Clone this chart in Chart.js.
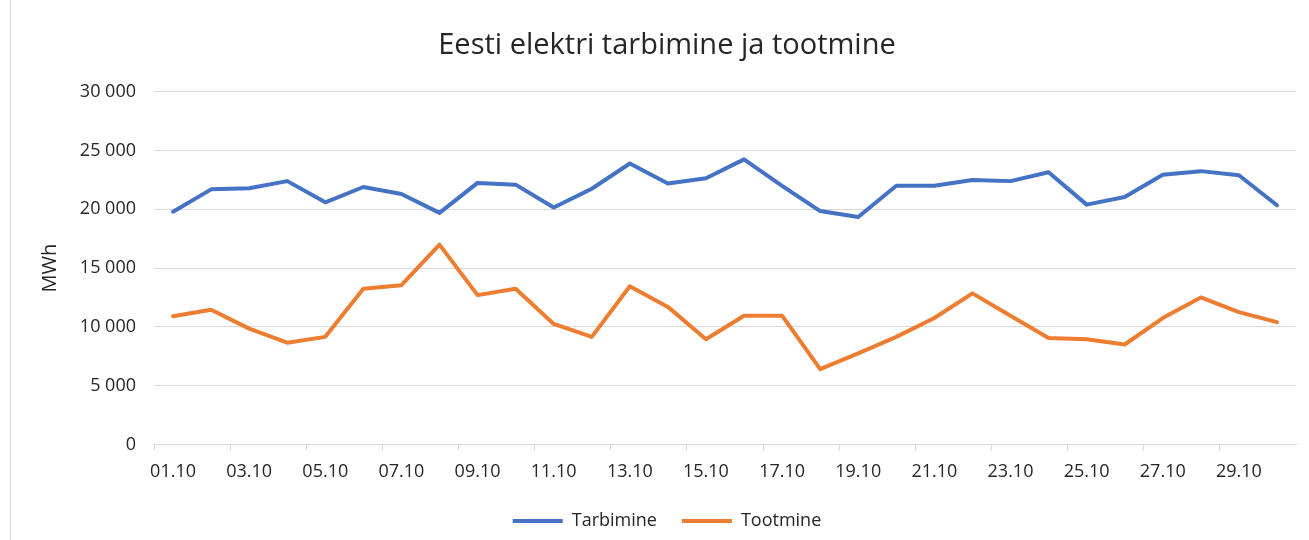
<!DOCTYPE html>
<html>
<head>
<meta charset="utf-8">
<script src="https://cdn.jsdelivr.net/npm/chart.js@4/dist/chart.umd.min.js"></script>
<style>
  body { margin: 0; background: #fff; }
  .raam { position: absolute; left: 10px; top: 0; width: 1299px; height: 540px; border-left: 1px solid #d9d9d9; }
  .kast { position: absolute; left: 0; top: 0; width: 1309px; height: 540px; }
</style>
</head>
<body>
<div class="raam"></div>
<div class="kast"><canvas id="chart" width="1309" height="540"></canvas></div>
<script>
// Kuupäevad (oktoober)
const paevad = ['01.10', '02.10', '03.10', '04.10', '05.10', '06.10', '07.10', '08.10', '09.10', '10.10',
    '11.10', '12.10', '13.10', '14.10', '15.10', '16.10', '17.10', '18.10', '19.10', '20.10',
    '21.10', '22.10', '23.10', '24.10', '25.10', '26.10', '27.10', '28.10', '29.10', '30.10'];

// Tarbimine, MWh
const tarbimine = [19800, 21700, 21800, 22400, 20600, 21900, 21300, 19700, 22250, 22100,
    20150, 21750, 23900, 22200, 22650, 24250, 22000, 19850, 19350, 22000,
    22000, 22500, 22400, 23150, 20400, 21050, 22950, 23250, 22900, 20350];

// Tootmine, MWh
const tootmine = [10900, 11450, 9850, 8650, 9150, 13250, 13550, 17000, 12700, 13250,
    10250, 9150, 13450, 11700, 8950, 10950, 10950, 6400, 7750, 9150,
    10750, 12850, 10950, 9050, 8950, 8500, 10750, 12500, 11250, 10400];

// Y-telje jaotised
const yMin = 0;
const yMax = 30000;
const ySamm = 5000;

const tekstiVarv = '#262626';
const joonteVarv = '#d9d9d9';
const font = '"Open Sans", sans-serif';

// Tuhandete eraldaja tühikuga
function vorminda(v) {
    return String(v).replace(/\B(?=(\d{3})+(?!\d))/g, ' ');
}

const ctx = document.getElementById('chart').getContext('2d');
const myChart = new Chart(ctx, {
    type: 'line',
    data: {
        labels: paevad,
        datasets: [
            {
                label: 'Tarbimine',
                data: tarbimine,
                borderColor: '#4472C4',
                backgroundColor: '#4472C4',
                borderWidth: 4,
                pointRadius: 0,
                tension: 0,
                borderJoinStyle: 'round',
                borderCapStyle: 'round'
            },
            {
                label: 'Tootmine',
                data: tootmine,
                borderColor: '#ED7D31',
                backgroundColor: '#ED7D31',
                borderWidth: 4,
                pointRadius: 0,
                tension: 0,
                borderJoinStyle: 'round',
                borderCapStyle: 'round'
            }
        ]
    },
    options: {
        responsive: false,
        animation: false,
        layout: {
            padding: { left: 38, right: 13, top: 0, bottom: 0 }
        },
        plugins: {
            title: {
                display: true,
                text: 'Eesti elektri tarbimine ja tootmine',
                color: tekstiVarv,
                font: { family: font, size: 29, weight: 'normal', lineHeight: 1.2 },
                padding: { top: 28, bottom: 29 }
            },
            legend: {
                position: 'bottom',
                labels: {
                    color: tekstiVarv,
                    font: { family: font, size: 18 },
                    usePointStyle: true,
                    pointStyle: 'line',
                    pointStyleWidth: 50,
                    boxHeight: 18,
                    padding: 25
                }
            },
            tooltip: { enabled: false }
        },
        scales: {
            x: {
                offset: true,
                afterFit: s => { s.height -= 7; },
                grid: {
                    offset: true,
                    drawOnChartArea: false,
                    drawTicks: true,
                    tickLength: 6,
                    color: c => (c.index % 2 === 0 ? joonteVarv : 'rgba(0,0,0,0)')
                },
                border: { color: joonteVarv, width: 1 },
                ticks: {
                    autoSkip: false,
                    maxRotation: 0,
                    padding: 11,
                    color: tekstiVarv,
                    font: { family: font, size: 18 },
                    callback: function (v, i) { return i % 2 === 0 ? this.getLabelForValue(v) : ''; }
                }
            },
            y: {
                min: yMin,
                max: yMax,
                afterFit: s => { s.width = 116; },
                grid: { color: joonteVarv, drawTicks: false },
                border: { display: false },
                ticks: {
                    stepSize: ySamm,
                    padding: 18,
                    color: tekstiVarv,
                    font: { family: font, size: 18 },
                    callback: v => vorminda(v)
                },
                title: {
                    display: true,
                    text: 'MWh',
                    color: tekstiVarv,
                    font: { family: font, size: 20, lineHeight: 1.2 },
                    padding: { top: 0, bottom: 0 }
                }
            }
        }
    }
});
</script>
</body>
</html>
